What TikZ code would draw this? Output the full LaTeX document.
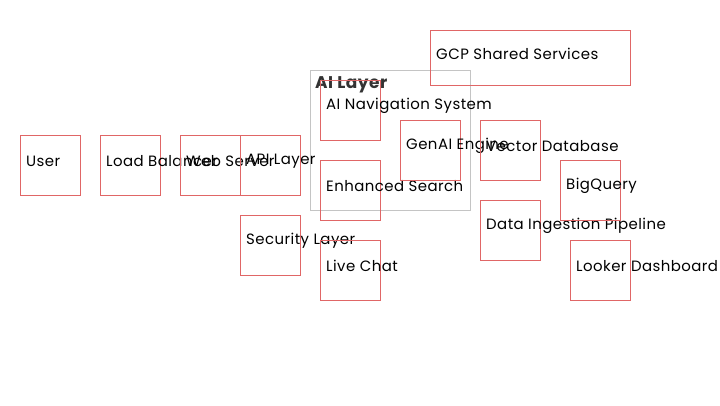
\documentclass[tikz,border=0pt]{standalone}
\usepackage{fontspec}
\setmainfont[LetterSpace=3]{Poppins}
\usepackage{xcolor}
\usepackage{tikz}
\definecolor{boxred}{HTML}{E06666}
\definecolor{groupgray}{HTML}{C4C4C4}
\definecolor{titlegray}{HTML}{333333}
\tikzset{
    tnode/.style = {inner sep=0pt, font=\fontsize{15}{17}\selectfont},
    comp/.style = {rectangle, draw=boxred, thin, minimum width=60bp, minimum height=60bp, anchor=north west, inner sep=0pt},
    aigroup/.style = {rectangle, draw=groupgray, thin, anchor=north west, inner sep=0pt},
    complabel/.style = {tnode, anchor=west, xshift=6bp, yshift=4bp}
}
\begin{document}
\begin{tikzpicture}[x=1bp, y=-1bp]
    \useasboundingbox (0,0) rectangle (720,405);

    % AI layer group
    \node [aigroup, minimum width=160bp, minimum height=140bp] (ailayer) at (310,70) {};
    \node [tnode, anchor=west, font=\fontsize{17}{19}\selectfont\bfseries, text=titlegray] (ailayertitle) at (315,85) {AI Layer};

    % components
    \node [comp, label={[complabel]west:User}] (user) at (20,135) {};
    \node [comp, label={[complabel]west:Load Balancer}] (lb) at (100,135) {};
    \node [comp, label={[complabel]west:Web Server}] (web) at (180,135) {};
    \node [comp, label={[complabel]west:API Layer}] (api) at (240,135) {};
    \node [comp, label={[complabel]west:Security Layer}] (security) at (240,215) {};
    \node [comp, label={[complabel]west:AI Navigation System}] (nav) at (320,80) {};
    \node [comp, label={[complabel]west:Enhanced Search}] (search) at (320,160) {};
    \node [comp, label={[complabel]west:Live Chat}] (chat) at (320,240) {};
    \node [comp, label={[complabel]west:GenAI Engine}] (genai) at (400,120) {};
    \node [comp, label={[complabel]west:Vector Database}] (vectordb) at (480,120) {};
    \node [comp, label={[complabel]west:Data Ingestion Pipeline}] (ingest) at (480,200) {};
    \node [comp, label={[complabel]west:BigQuery}] (bigquery) at (560,160) {};
    \node [comp, label={[complabel]west:Looker Dashboard}] (looker) at (570,240) {};
    \node [comp, minimum width=200bp, minimum height=55bp, label={[complabel]west:GCP Shared Services}] (gcp) at (430,30) {};
\end{tikzpicture}
\end{document}
